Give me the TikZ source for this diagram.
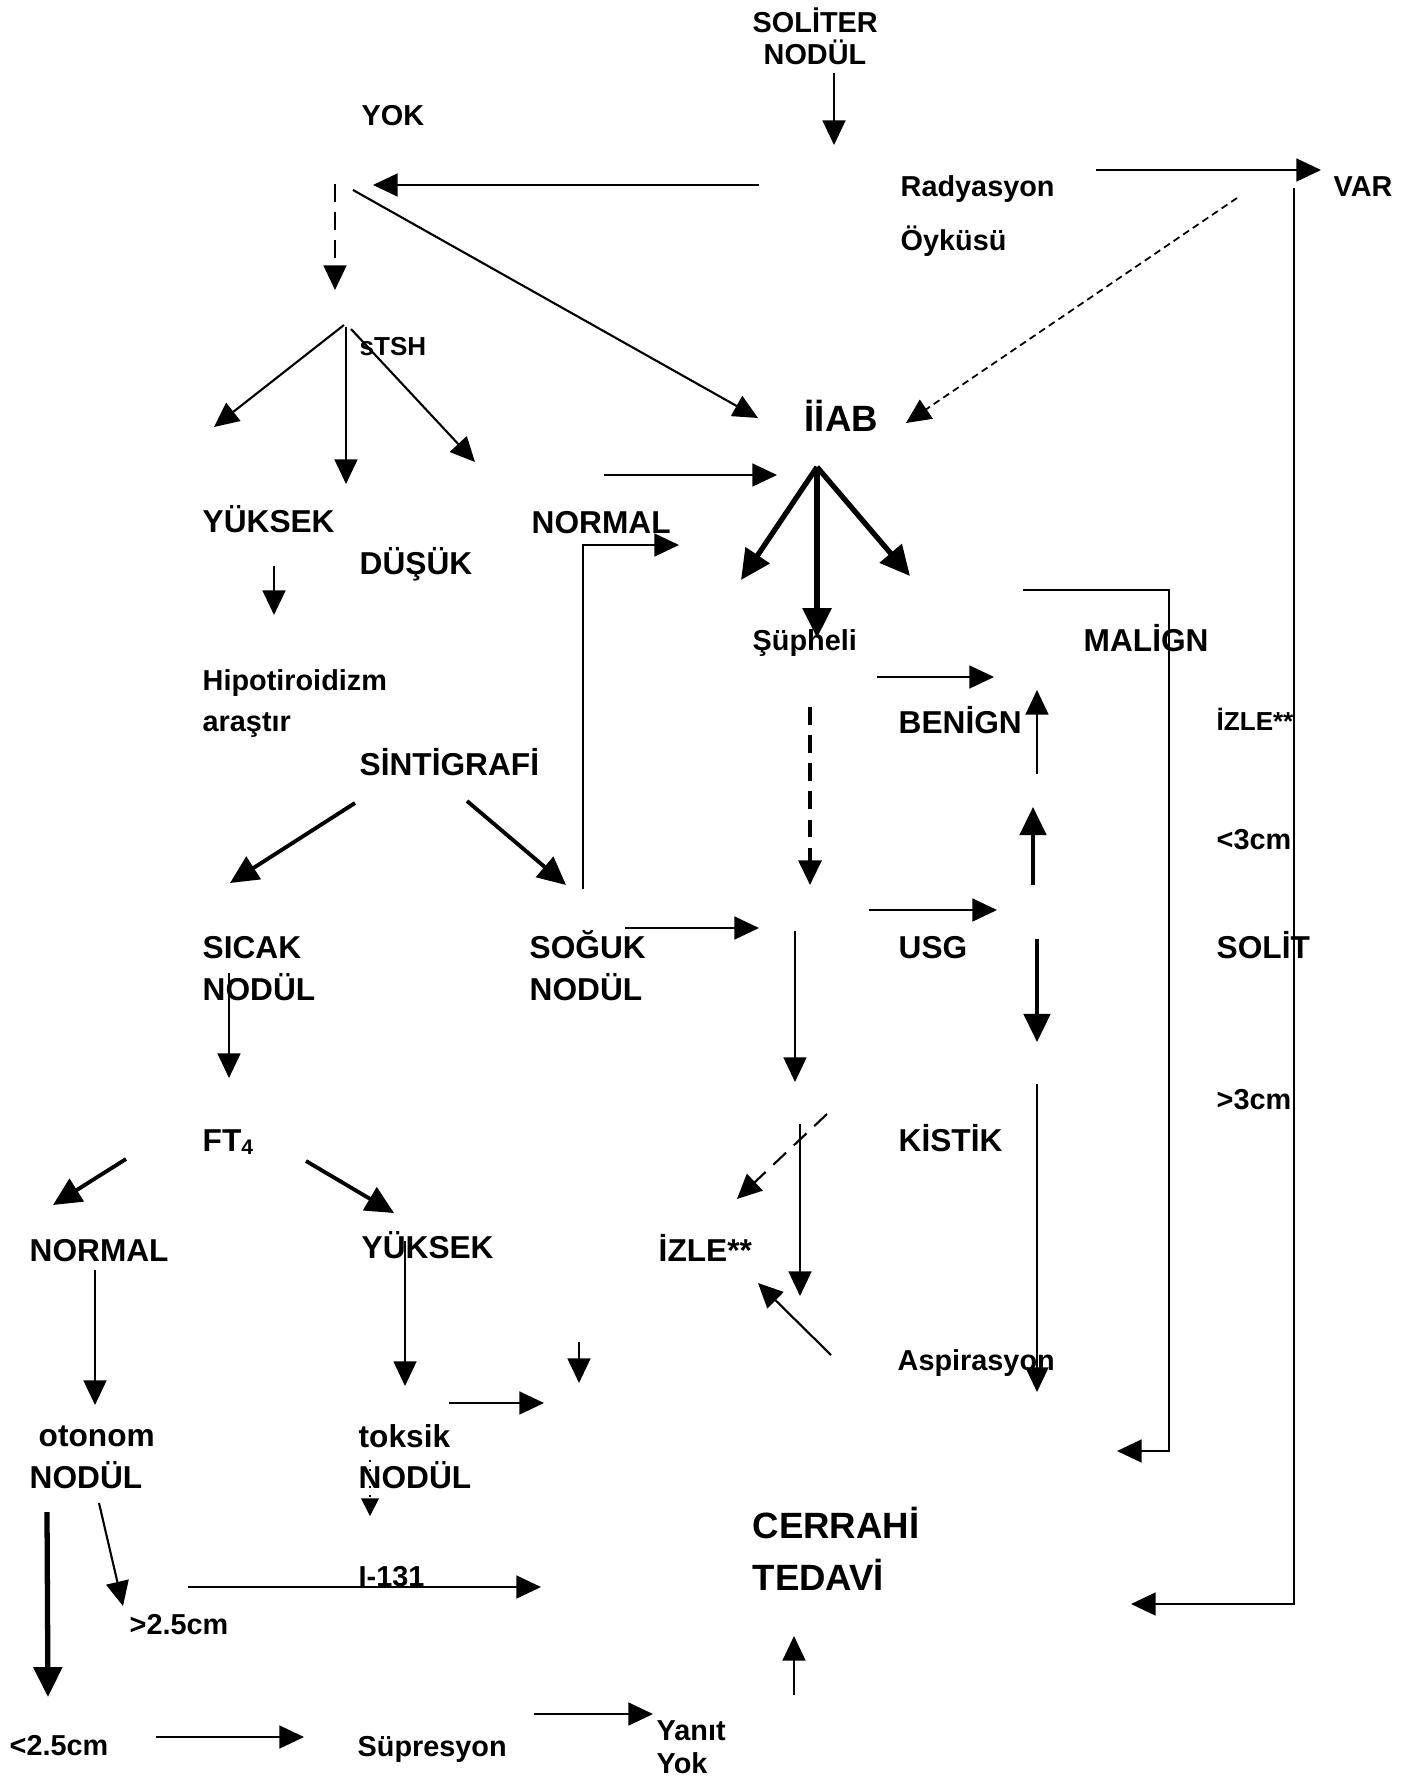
\documentclass[tikz,border=0pt]{standalone}
\usepackage{fontspec}
\setmainfont{Liberation Sans}
\usetikzlibrary{arrows.meta}
\tikzset{
    lbl/.style={
        anchor=base west,
        inner sep=0pt,
        font=\fontsize{9}{11}\selectfont\bfseries
    },
    smalltxt/.style={
        lbl,
        font=\fontsize{8.2}{10}\selectfont\bfseries
    },
    bigtxt/.style={
        lbl,
        font=\fontsize{10.4}{12}\selectfont\bfseries
    },
    notetxt/.style={
        lbl,
        font=\fontsize{7.4}{9}\selectfont\bfseries
    },
    wire/.style={
        draw=black,
        line width=0.6pt,
        -{Triangle[length=7pt,width=6.5pt]}
    },
    thickwire/.style={
        wire,
        line width=1.1pt,
        -{Triangle[length=8pt,width=7.5pt]}
    },
    heavywire/.style={
        wire,
        line width=1.5pt,
        -{Triangle[length=8.5pt,width=8pt]}
    },
    dashwire/.style={
        wire,
        dash pattern=on 5pt off 3pt
    },
    finedash/.style={
        wire,
        line width=0.5pt,
        dash pattern=on 2pt off 1.3pt
    },
    dotwire/.style={
        wire,
        line width=0.5pt,
        dotted,
        -{Triangle[length=5pt,width=5pt]}
    },
    plainline/.style={
        draw=black,
        line width=0.6pt
    }
}

\begin{document}
\begin{tikzpicture}[x=0.01cm, y=-0.01cm]

\useasboundingbox (0,0) rectangle (1411,1779);

% labels
\node[smalltxt] (soliter) at (752,33) {SOLİTER};
\node[smalltxt] (soliternod) at (763,65) {NODÜL};
\node[smalltxt] (yok) at (361,126) {YOK};
\node[smalltxt] (radyasyon) at (900,197) {Radyasyon};
\node[smalltxt] (oykusu) at (900,250) {Öyküsü};
\node[smalltxt] (var) at (1333,197) {VAR};
\node[notetxt] (stsh) at (359,355) {sTSH};
\node[bigtxt] (iiab) at (804,431) {İİAB};
\node[lbl] (tshhigh) at (202,532) {YÜKSEK};
\node[lbl] (tshnormal) at (531,533) {NORMAL};
\node[lbl] (tshlow) at (359,574) {DÜŞÜK};
\node[smalltxt] (supheli) at (752,650) {Şüpheli};
\node[lbl] (malign) at (1083,651) {MALİGN};
\node[smalltxt] (hipo) at (202,690) {Hipotiroidizm};
\node[smalltxt] (hipob) at (202,731) {araştır};
\node[lbl] (benign) at (898,733) {BENİGN};
\node[notetxt] (izleright) at (1216,730) {İZLE**};
\node[lbl] (sinti) at (359,775) {SİNTİGRAFİ};
\node[smalltxt] (small3) at (1216,849) {<3cm};
\node[lbl] (sicak) at (202,958) {SICAK};
\node[lbl] (sicaknod) at (202,1000) {NODÜL};
\node[lbl] (soguk) at (529,958) {SOĞUK};
\node[lbl] (soguknod) at (529,1000) {NODÜL};
\node[lbl] (usg) at (898,958) {USG};
\node[lbl] (solit) at (1216,958) {SOLİT};
\node[smalltxt] (large3) at (1216,1109) {>3cm};
\node[lbl] (ft4) at (202,1151) {FT\textsubscript{4}};
\node[lbl] (kistik) at (898,1151) {KİSTİK};
\node[lbl] (ftnormal) at (29,1261) {NORMAL};
\node[lbl] (fthigh) at (361,1258) {YÜKSEK};
\node[lbl] (izlemid) at (658,1261) {İZLE**};
\node[smalltxt] (aspir) at (897,1370) {Aspirasyon};
\node[lbl] (otonom) at (38,1446) {otonom};
\node[lbl] (otonomnod) at (29,1488) {NODÜL};
\node[lbl] (toksik) at (358,1447) {toksik};
\node[lbl] (toksiknod) at (358,1488) {NODÜL};
\node[bigtxt] (cerrahi) at (752,1538) {CERRAHİ};
\node[bigtxt] (tedavi) at (752,1590) {TEDAVİ};
\node[smalltxt] (iodine) at (358,1586) {I-131};
\node[smalltxt] (large25) at (129,1634) {>2.5cm};
\node[smalltxt] (small25) at (9,1755) {<2.5cm};
\node[smalltxt] (supres) at (357,1756) {Süpresyon};
\node[smalltxt] (yanit) at (656,1740) {Yanıt};
\node[smalltxt] (yanityok) at (656,1773) {Yok};

% connector ends
\coordinate (solS) at (834,73);   \coordinate (solE) at (834,145);
\coordinate (yokS) at (759,185);  \coordinate (yokE) at (373,185);
\coordinate (varS) at (1096,170); \coordinate (varE) at (1321,170);
\coordinate (tshS) at (335,184);  \coordinate (tshE) at (335,290);
\coordinate (yokdS) at (353,190); \coordinate (yokdE) at (758,418);
\coordinate (vardS) at (1237,198); \coordinate (vardE) at (906,423);
\coordinate (varL) at (1294,188); \coordinate (varB) at (1294,1604);
\coordinate (varC) at (1131,1604);
\coordinate (forkA) at (344,325); \coordinate (forkAE) at (214,427);
\coordinate (forkB) at (346,327); \coordinate (forkBE) at (346,484);
\coordinate (forkC) at (351,329); \coordinate (forkCE) at (475,462);
\coordinate (highS) at (274,566); \coordinate (highE) at (274,615);
\coordinate (normS) at (604,475); \coordinate (normE) at (777,475);
\coordinate (cold) at (583,889);  \coordinate (coldE) at (679,545);
\coordinate (fan) at (817,467);
\coordinate (fanL) at (741,580);  \coordinate (fanM) at (817,638);
\coordinate (fanR) at (910,576);
\coordinate (malS) at (1023,590); \coordinate (malB) at (1169,1451);
\coordinate (malE) at (1117,1451);
\coordinate (supS) at (877,677);  \coordinate (supE) at (994,677);
\coordinate (benS) at (1037,774); \coordinate (benE) at (1037,690);
\coordinate (supdS) at (810,707); \coordinate (supdE) at (810,885);
\coordinate (solitS) at (1033,885); \coordinate (solitE) at (1033,807);
\coordinate (coldS) at (625,928); \coordinate (coldR) at (759,928);
\coordinate (usgS) at (869,910);  \coordinate (usgE) at (997,910);
\coordinate (usgdS) at (795,931); \coordinate (usgdE) at (795,1082);
\coordinate (cysS) at (1037,939); \coordinate (cysE) at (1037,1042);
\coordinate (bigS) at (1037,1084); \coordinate (bigE) at (1037,1392);
\coordinate (kisS) at (827,1114); \coordinate (kisE) at (737,1199);
\coordinate (kisdS) at (800,1124); \coordinate (kisdE) at (800,1296);
\coordinate (aspS) at (831,1355); \coordinate (aspE) at (758,1283);
\coordinate (sinL) at (355,803);  \coordinate (sinLE) at (230,883);
\coordinate (sinR) at (467,801);  \coordinate (sinRE) at (566,885);
\coordinate (sicS) at (229,973);  \coordinate (sicE) at (229,1078);
\coordinate (ftL) at (126,1159);  \coordinate (ftLE) at (53,1205);
\coordinate (ftR) at (306,1161);  \coordinate (ftRE) at (394,1213);
\coordinate (ftnS) at (95,1270);  \coordinate (ftnE) at (95,1405);
\coordinate (fthS) at (405,1241); \coordinate (fthE) at (405,1386);
\coordinate (midS) at (579,1342); \coordinate (midE) at (579,1383);
\coordinate (toxS) at (449,1403); \coordinate (toxE) at (544,1403);
\coordinate (dotS) at (370,1460); \coordinate (dotE) at (370,1516);
\coordinate (otoS) at (47,1512);  \coordinate (otoE) at (48,1697);
\coordinate (otodS) at (99,1503); \coordinate (otodE) at (123,1606);
\coordinate (iodS) at (188,1587); \coordinate (iodE) at (541,1587);
\coordinate (smS) at (156,1737);  \coordinate (smE) at (304,1737);
\coordinate (suS) at (534,1714);  \coordinate (suE) at (653,1714);
\coordinate (cerS) at (794,1695); \coordinate (cerE) at (794,1636);

% radiation history
\draw[wire] (solS) -- (solE);
\draw[wire] (yokS) -- (yokE);
\draw[wire] (varS) -- (varE);
\draw[dashwire] (tshS) -- (tshE);
\draw[wire] (yokdS) -- (yokdE);
\draw[finedash] (vardS) -- (vardE);
\draw[wire] (varL) -- (varB) -- (varC);

% sTSH
\draw[wire] (forkA) -- (forkAE);
\draw[wire] (forkB) -- (forkBE);
\draw[wire] (forkC) -- (forkCE);
\draw[wire] (highS) -- (highE);
\draw[wire] (normS) -- (normE);
\draw[wire] (cold) -- (cold |- coldE) -- (coldE);

% FNAB
\draw[heavywire] (fan) -- (fanL);
\draw[heavywire] (fan) -- (fanM);
\draw[heavywire] (fan) -- (fanR);
\draw[wire] (malS) -| (malB) -- (malE);
\draw[wire] (supS) -- (supE);
\draw[wire] (benS) -- (benE);
\draw[dashwire, line width=1pt] (supdS) -- (supdE);
\draw[thickwire] (solitS) -- (solitE);
\draw[wire] (coldS) -- (coldR);
\draw[wire] (usgS) -- (usgE);
\draw[wire] (usgdS) -- (usgdE);
\draw[thickwire] (cysS) -- (cysE);
\draw[wire] (bigS) -- (bigE);
\draw[dashwire] (kisS) -- (kisE);
\draw[wire] (kisdS) -- (kisdE);
\draw[wire] (aspS) -- (aspE);

% scintigraphy
\draw[thickwire] (sinL) -- (sinLE);
\draw[thickwire] (sinR) -- (sinRE);
\draw[wire] (sicS) -- (sicE);
\draw[thickwire] (ftL) -- (ftLE);
\draw[thickwire] (ftR) -- (ftRE);
\draw[wire] (ftnS) -- (ftnE);
\draw[wire] (fthS) -- (fthE);
\draw[wire] (midS) -- (midE);
\draw[wire] (toxS) -- (toxE);
\draw[dotwire] (dotS) -- (dotE);
\draw[heavywire] (otoS) -- (otoE);
\draw[wire] (otodS) -- (otodE);
\draw[wire] (iodS) -- (iodE);
\draw[wire] (smS) -- (smE);
\draw[wire] (suS) -- (suE);
\draw[wire] (cerS) -- (cerE);

\end{tikzpicture}
\end{document}
